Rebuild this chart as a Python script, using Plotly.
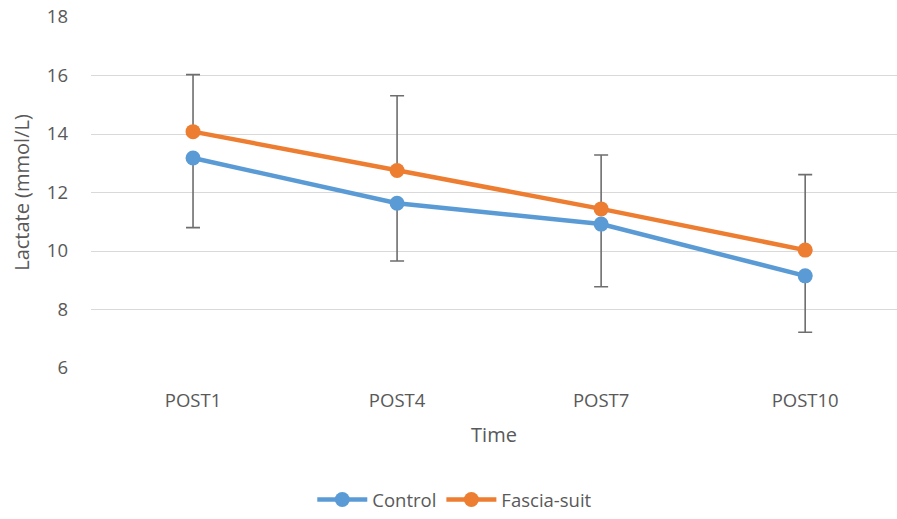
import plotly.graph_objects as go

categories = ["POST1", "POST4", "POST7", "POST10"]
control = [13.18, 11.63, 10.92, 9.15]
control_minus = [2.38, 1.97, 2.14, 1.93]
fascia = [14.08, 12.75, 11.44, 10.03]
fascia_plus = [1.95, 2.56, 1.84, 2.58]

FONT = "'Open Sans', sans-serif"
GRAY = "#595959"
ERR = "#6e6e6e"

fig = go.Figure()
fig.add_trace(go.Scatter(
    x=categories, y=control, name="Control", mode="lines+markers",
    line=dict(color="#5B9BD5", width=4.5), marker=dict(size=15, color="#5B9BD5"),
    error_y=dict(type="data", symmetric=False, array=[0]*4, arrayminus=control_minus,
                 color=ERR, thickness=1.6, width=7),
))
fig.add_trace(go.Scatter(
    x=categories, y=fascia, name="Fascia-suit", mode="lines+markers",
    line=dict(color="#ED7D31", width=4.5), marker=dict(size=15, color="#ED7D31"),
    error_y=dict(type="data", symmetric=False, array=fascia_plus, arrayminus=[0]*4,
                 color=ERR, thickness=1.6, width=7),
))

fig.update_layout(
    width=897, height=519,
    margin=dict(l=91, r=0, t=17, b=151, autoexpand=False),
    paper_bgcolor="white", plot_bgcolor="white",
    font=dict(family=FONT, color=GRAY, size=18),
    showlegend=True,
    legend=dict(orientation="h", x=0.507, xref="container", xanchor="center",
                y=0.0, yref="container", yanchor="bottom",
                font=dict(size=18.5, color=GRAY), traceorder="normal", itemwidth=50,
                bgcolor="rgba(0,0,0,0)"),
    xaxis=dict(
        type="category", range=[-0.5, 3.45], showgrid=False, zeroline=False,
        showline=False, ticks="", ticklabelstandoff=19, automargin=False,
        tickfont=dict(size=18.5, color=GRAY),
        title=dict(text="Time", font=dict(size=20, color=GRAY), standoff=17),
    ),
    yaxis=dict(
        range=[6, 18], dtick=2, showgrid=True, gridcolor="#D9D9D9", gridwidth=1.3,
        zeroline=False, showline=False, ticks="", ticklabelstandoff=22, automargin=False,
        tickfont=dict(size=18.5, color=GRAY),
        title=dict(text="Lactate (mmol/L)", font=dict(size=20, color=GRAY), standoff=11),
    ),
)

fig.write_html("out.html")
